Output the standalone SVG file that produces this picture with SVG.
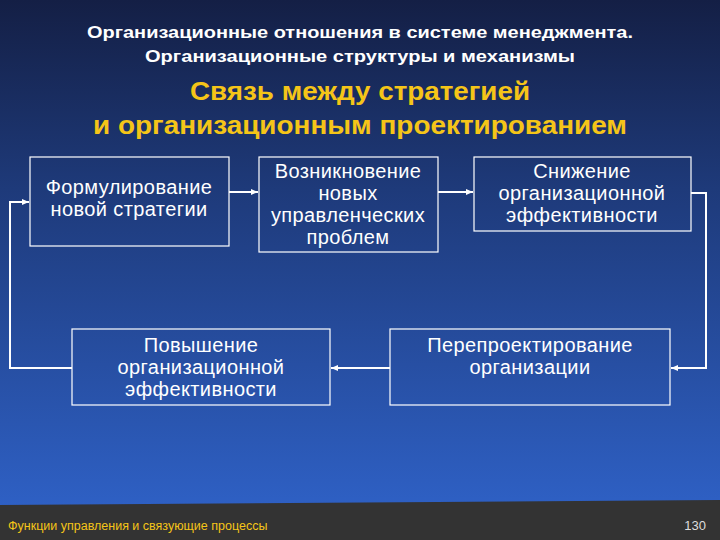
<svg xmlns="http://www.w3.org/2000/svg" width="720" height="540" viewBox="0 0 720 540">
<defs>
<linearGradient id="bg" x1="0" y1="0" x2="0" y2="1">
<stop offset="0" stop-color="#141f45"/><stop offset="0.35" stop-color="#1e3a7a"/><stop offset="1" stop-color="#3064cc"/>
</linearGradient>
<marker id="ar" markerWidth="8" markerHeight="8" refX="7" refY="4" orient="auto" markerUnits="userSpaceOnUse"><path d="M0,1 L7,4 L0,7 z" fill="#fff"/></marker>
<style>
.b{fill:none;stroke:#fff;stroke-width:1.2}
.t{font-family:"Liberation Sans",Arial,sans-serif;font-size:20px;letter-spacing:0.4px;fill:#fff;text-anchor:middle}
.c{fill:none;stroke:#fff;stroke-width:2;marker-end:url(#ar)}
</style>
</defs>
<rect width="720" height="540" fill="url(#bg)"/>
<polygon points="0,505 720,500 720,540 0,540" fill="#333333"/>
<g font-family="Liberation Sans,Arial,sans-serif" font-weight="bold" text-anchor="middle">
<text x="360" y="38" font-size="17" fill="#fff" textLength="546" lengthAdjust="spacingAndGlyphs">Организационные отношения в системе менеджмента.</text>
<text x="360" y="62" font-size="17" fill="#fff" textLength="430" lengthAdjust="spacingAndGlyphs">Организационные структуры и механизмы</text>
<text x="360" y="100" font-size="25" fill="#f5c518" textLength="340" lengthAdjust="spacingAndGlyphs">Связь между стратегией</text>
<text x="360" y="134" font-size="25" fill="#f5c518" textLength="534" lengthAdjust="spacingAndGlyphs">и организационным проектированием</text>
</g>
<g id="connectors">
<path class="c" d="M229,192 H258"/>
<path class="c" d="M438,192 H473"/>
<path class="c" d="M691,193 H706 V368 H671"/>
<path class="c" d="M390,368 H331"/>
<path class="c" d="M72,368 H10 V202 H29"/>
</g>
<g id="n1"><rect class="b" x="30" y="157" width="199" height="89"/><text class="t" x="129" y="194">Формулирование</text><text class="t" x="129" y="216">новой стратегии</text></g>
<g id="n2"><rect class="b" x="259" y="157" width="179" height="95"/><text class="t" x="348" y="178">Возникновение</text><text class="t" x="348" y="200">новых</text><text class="t" x="348" y="222">управленческих</text><text class="t" x="348" y="244">проблем</text></g>
<g id="n3"><rect class="b" x="474" y="157" width="217" height="74"/><text class="t" x="582" y="178">Снижение</text><text class="t" x="582" y="200">организационной</text><text class="t" x="582" y="222">эффективности</text></g>
<g id="n4"><rect class="b" x="72" y="329" width="258" height="76"/><text class="t" x="201" y="352">Повышение</text><text class="t" x="201" y="374">организационной</text><text class="t" x="201" y="396">эффективности</text></g>
<g id="n5"><rect class="b" x="390" y="329" width="280" height="76"/><text class="t" x="530" y="352">Перепроектирование</text><text class="t" x="530" y="374">организации</text></g>
<text x="8" y="530" font-family="Liberation Sans,Arial,sans-serif" font-size="12.5" fill="#f5c518">Функции управления и связующие процессы</text>
<text x="706" y="530" font-family="Liberation Sans,Arial,sans-serif" font-size="13" fill="#ddd" text-anchor="end">130</text>
</svg>
